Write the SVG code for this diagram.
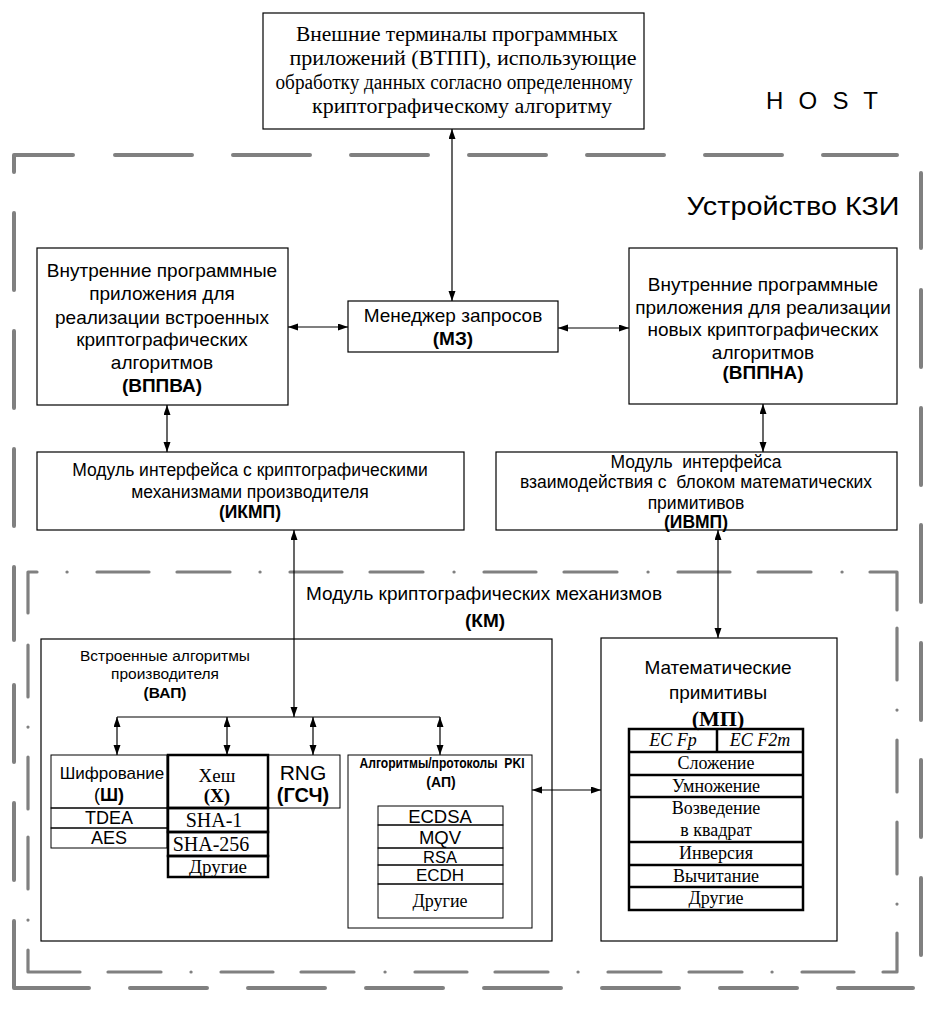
<svg xmlns="http://www.w3.org/2000/svg" width="939" height="1032" viewBox="0 0 939 1032">
<style>
.bx{fill:#fff;stroke:#000;stroke-width:1.2}
.thk{fill:none;stroke:#000;stroke-width:2.5}
.thn{fill:none;stroke:#000;stroke-width:1}
.ob{fill:none;stroke:#808080;stroke-width:4;stroke-linecap:round;stroke-linejoin:round}
.ib{fill:none;stroke:#808080;stroke-width:3.2;stroke-linecap:round;stroke-linejoin:round}
.cn{fill:none;stroke:#000;stroke-width:1.2}
.ar{marker-start:url(#ah);marker-end:url(#ah)}
text{font-family:"Liberation Sans",Arial,sans-serif;font-size:19px;fill:#000;text-anchor:middle;dominant-baseline:central;white-space:pre}
.sr{font-family:"Liberation Serif","Times New Roman",serif;font-size:18px}
.b{font-weight:bold}
.s17{font-size:17.5px}
.s15{font-size:15.5px}
.it{font-style:italic}
</style>
<defs>
<marker id="ah" markerUnits="userSpaceOnUse" markerWidth="11" markerHeight="8" refX="10" refY="3.5" orient="auto-start-reverse">
<path d="M0,0 L10,3.5 L0,7 z" fill="#000"/>
</marker>
</defs>

<g id="outer-border">
<path class="ob" d="M14,172 L14,155 L73,155 M115,155 L192,155 M233,155 L310,155 M351,155 L428,155 M469,155 L546,155 M587,155 L664,155 M705,155 L782,155 M823,155 L897,155"/>
<path class="ob" d="M14,213 L14,290 M14,331 L14,408 M14,449 L14,526 M14,567 L14,640 M14,685 L14,762 M14,803 L14,880 M14,921 L14,988 L89,988 M130,988 L207,988 M248,988 L325,988 M366,988 L443,988 M484,988 L561,988 M602,988 L679,988 M720,988 L797,988 M838,988 L913,988"/>
<path class="ob" d="M921,173 L921,248 M921,290 L921,367 M921,408 L921,485 M921,525 L921,602 M921,643 L921,720 M921,760 L921,837 M921,878 L921,955"/>
</g>

<g id="inner-border">
<path class="ib" d="M28,613 L28,572 L37,572 M97,572 L149,572 M177,572 L230,572 M290,572 L342,572 M370,572 L423,572 M484,572 L536,572 M564,572 L617,572 M678,572 L730,572 M758,572 L811,572 M870,572 L897,572 L897,610"/>
<path class="ib" d="M67,572 L67.1,572 M260,572 L260.1,572 M454,572 L454.1,572 M648,572 L648.1,572 M842,572 L842.1,572"/>
<path class="ib" d="M28,645 L28,697 M28,757 L28,809 M28,837 L28,889 M28,950 L28,972 L80,972 M108,972 L161,972 M221,972 L273,972 M301,972 L354,972 M415,972 L467,972 M495,972 L548,972 M608,972 L661,972 M689,972 L742,972 M802,972 L854,972 M883,972 L897,972 L897,933"/>
<path class="ib" d="M28,727 L28,727.1 M28,920 L28,920.1 M191,972 L191.1,972 M385,972 L385.1,972 M578,972 L578.1,972 M772,972 L772.1,972 M897,710 L897,710.1 M897,904 L897,904.1"/>
<path class="ib" d="M897,628 L897,680 M897,740 L897,792 M897,822 L897,874"/>
</g>

<g id="labels">
<text x="822" y="100" style="font-size:24px" textLength="112" lengthAdjust="spacing">H O S T</text>
<text x="793" y="206" style="font-size:26px" textLength="213" lengthAdjust="spacingAndGlyphs">Устройство КЗИ</text>
<text x="484" y="593">Модуль криптографических механизмов</text>
<text x="485" y="620" class="b">(КМ)</text>
</g>

<g id="vtpp">
<rect class="bx" x="263" y="13" width="381" height="116"/>
<text class="sr" x="457" y="34" style="font-size:20px" textLength="322" lengthAdjust="spacingAndGlyphs">Внешние терминалы программных</text>
<text class="sr" x="463" y="58" style="font-size:20px" textLength="347" lengthAdjust="spacingAndGlyphs">приложений (ВТПП), использующие</text>
<text class="sr" x="454" y="82" style="font-size:20px" textLength="357" lengthAdjust="spacingAndGlyphs">обработку данных согласно определенному</text>
<text class="sr" x="462" y="106" style="font-size:20px" textLength="300" lengthAdjust="spacingAndGlyphs">криптографическому алгоритму</text>
</g>

<g id="vppva">
<rect class="bx" x="37" y="248" width="251" height="157"/>
<text x="162" y="270">Внутренние программные</text>
<text x="162" y="293">приложения для</text>
<text x="162" y="317">реализации встроенных</text>
<text x="162" y="339">криптографических</text>
<text x="162" y="362">алгоритмов</text>
<text x="162" y="385" class="b">(ВППВА)</text>
</g>

<g id="mz">
<rect class="bx" x="348" y="301" width="210" height="51"/>
<text x="453" y="315">Менеджер запросов</text>
<text x="453" y="338" class="b">(МЗ)</text>
</g>

<g id="vppna">
<rect class="bx" x="629" y="248" width="268" height="156"/>
<text x="763" y="284">Внутренние программные</text>
<text x="763" y="307">приложения для реализации</text>
<text x="763" y="329">новых криптографических</text>
<text x="763" y="352">алгоритмов</text>
<text x="763" y="372" class="b">(ВППНА)</text>
</g>

<g id="ikmp">
<rect class="bx" x="37" y="452" width="427" height="78"/>
<text x="250" y="470" class="s17">Модуль интерфейса с криптографическими</text>
<text x="250" y="492" class="s17">механизмами производителя</text>
<text x="250" y="512" class="s17 b">(ИКМП)</text>
</g>

<g id="ivmp">
<rect class="bx" x="496" y="452" width="401" height="78"/>
<text x="696" y="462" class="s17">Модуль  интерфейса</text>
<text x="696" y="482" class="s17">взаимодействия с  блоком математических</text>
<text x="696" y="503" class="s17">примитивов</text>
<text x="696" y="522" class="s17 b">(ИВМП)</text>
</g>

<g id="vap">
<rect class="bx" x="41" y="639" width="511" height="302"/>
<text x="165" y="655" class="s15">Встроенные алгоритмы</text>
<text x="165" y="673" class="s15">производителя</text>
<text x="165" y="692" class="s15 b">(ВАП)</text>
</g>

<g id="shifr">
<rect class="thn" x="51" y="755" width="116" height="53"/>
<rect class="thn" x="51" y="808" width="116" height="20"/>
<rect class="thn" x="51" y="828" width="116" height="20"/>
<text x="112" y="773" style="font-size:17px">Шифрование</text>
<text x="109" y="795" style="font-size:18px">(<tspan class="b">Ш)</tspan></text>
<text x="109" y="818" style="font-size:18px">TDEA</text>
<text x="109" y="838" style="font-size:18px">AES</text>
</g>

<g id="hesh">
<rect class="thk" x="168" y="755" width="100" height="53"/>
<rect class="thk" x="168" y="808" width="100" height="24"/>
<rect class="thk" x="168" y="832" width="100" height="24"/>
<rect class="thk" x="168" y="856" width="100" height="21"/>
<text x="217" y="775" class="sr" style="font-size:19px">Хеш</text>
<text x="217" y="795" class="sr b" style="font-size:19px">(Х)</text>
<text x="214" y="820" class="sr" style="font-size:20px">SHA-1</text>
<text x="211" y="844" class="sr" style="font-size:20px">SHA-256</text>
<text x="218" y="866" class="sr" style="font-size:19px">Другие</text>
</g>

<g id="rng">
<rect class="thn" x="268" y="755" width="72" height="53"/>
<text x="303" y="772" style="font-size:21px">RNG</text>
<text x="303" y="795" class="b" style="font-size:20px">(ГСЧ)</text>
</g>

<g id="ap">
<rect class="thn" x="348" y="755" width="184" height="173"/>
<text x="442" y="763" class="b" style="font-size:14px" textLength="165" lengthAdjust="spacingAndGlyphs">Алгоритмы/протоколы  PKI</text>
<text x="441" y="782" class="b" style="font-size:14px">(АП)</text>
<rect class="thn" x="378" y="806" width="125" height="19"/>
<rect class="thn" x="378" y="825" width="125" height="23"/>
<rect class="thn" x="378" y="848" width="125" height="17"/>
<rect class="thn" x="378" y="865" width="125" height="19"/>
<rect class="thn" x="378" y="884" width="125" height="34"/>
<text x="440" y="816" style="font-size:18.5px">ECDSA</text>
<text x="440" y="837" style="font-size:18.5px">MQV</text>
<text x="440" y="857" style="font-size:16.5px">RSA</text>
<text x="440" y="875" style="font-size:17px">ECDH</text>
<text x="440" y="901" class="sr">Другие</text>
</g>

<g id="mp">
<rect class="bx" x="601" y="638" width="236" height="303"/>
<text x="718" y="667">Математические</text>
<text x="718" y="692">примитивы</text>
<text x="718" y="718" class="sr b" style="font-size:22px">(МП)</text>
<rect class="thk" x="629" y="729" width="174" height="181"/>
<line class="thk" x1="717" y1="729" x2="717" y2="752"/>
<line class="thk" x1="629" y1="752" x2="803" y2="752"/>
<line class="thk" x1="629" y1="775" x2="803" y2="775"/>
<line class="thk" x1="629" y1="797" x2="803" y2="797"/>
<line class="thk" x1="629" y1="842" x2="803" y2="842"/>
<line class="thk" x1="629" y1="865" x2="803" y2="865"/>
<line class="thk" x1="629" y1="887" x2="803" y2="887"/>
<text x="673" y="740" class="sr it">EC Fp</text>
<text x="760" y="740" class="sr it">EC F2m</text>
<text x="716" y="763" class="sr">Сложение</text>
<text x="716" y="786" class="sr">Умножение</text>
<text x="716" y="808" class="sr">Возведение</text>
<text x="716" y="830" class="sr">в квадрат</text>
<text x="716" y="853" class="sr">Инверсия</text>
<text x="716" y="876" class="sr">Вычитание</text>
<text x="716" y="898" class="sr">Другие</text>
</g>

<g id="connectors">
<line class="cn ar" x1="452" y1="129" x2="452" y2="301"/>
<line class="cn ar" x1="288" y1="327" x2="348" y2="327"/>
<line class="cn ar" x1="558" y1="328" x2="629" y2="328"/>
<line class="cn ar" x1="167" y1="405" x2="167" y2="452"/>
<line class="cn ar" x1="763" y1="404" x2="763" y2="452"/>
<line class="cn ar" x1="294" y1="530" x2="294" y2="717"/>
<line class="cn ar" x1="718" y1="530" x2="718" y2="638"/>
<line class="cn" x1="117" y1="717" x2="440" y2="717"/>
<line class="cn ar" x1="117" y1="717" x2="117" y2="755"/>
<line class="cn ar" x1="227" y1="717" x2="227" y2="755"/>
<line class="cn ar" x1="313" y1="717" x2="313" y2="755"/>
<line class="cn ar" x1="440" y1="717" x2="440" y2="755"/>
<line class="cn ar" x1="532" y1="790" x2="601" y2="790"/>
</g>
</svg>
